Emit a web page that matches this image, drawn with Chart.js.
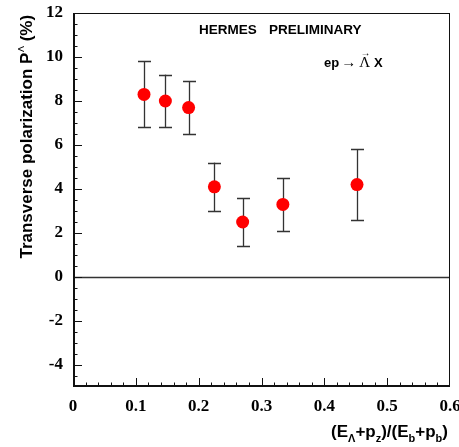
<!DOCTYPE html>
<html>
<head>
<meta charset="utf-8">
<script src="https://cdn.jsdelivr.net/npm/chart.js@4"></script>
<style>
  html, body { margin: 0; padding: 0; background: #fff; overflow: hidden; }
  #wrap { width: 459px; height: 447px; overflow: hidden; }
</style>
</head>
<body>
<div id="wrap"><canvas id="myChart" width="470" height="447"></canvas></div>
<script>
// measured points: x fraction, polarization (%) and its error
const xValues = [0.113, 0.147, 0.184, 0.225, 0.270, 0.334, 0.452];
const polarization = [8.3, 8.0, 7.7, 4.1, 2.5, 3.3, 4.2];
const polErr = [1.5, 1.2, 1.2, 1.1, 1.1, 1.2, 1.6];

const xTicks = [0, 0.1, 0.2, 0.3, 0.4, 0.5, 0.6];
const yTicks = [-4, -2, 0, 2, 4, 6, 8, 10, 12];

const tickFont = { family: 'Liberation Serif', size: 17, weight: 'bold' };
const sansBold = '"Liberation Sans", Arial, sans-serif';

// draws frame, inward tick marks, zero line and error bars
const hermesPlot = {
    id: 'hermesPlot',
    beforeDatasetsDraw(chart) {
        const { ctx, chartArea: a, scales: { x, y } } = chart;
        ctx.save();
        // zero line
        ctx.strokeStyle = '#333';
        ctx.lineWidth = 1.3;
        const y0 = Math.round(y.getPixelForValue(0)) + 0.5;
        ctx.beginPath();
        ctx.moveTo(a.left, y0);
        ctx.lineTo(a.right, y0);
        ctx.stroke();

        // error bars
        ctx.strokeStyle = '#333';
        ctx.lineWidth = 1.3;
        for (let i = 0; i < xValues.length; i++) {
            const px = Math.round(x.getPixelForValue(xValues[i])) + 0.5;
            const top = y.getPixelForValue(polarization[i] + polErr[i]);
            const bot = y.getPixelForValue(polarization[i] - polErr[i]);
            ctx.beginPath();
            ctx.moveTo(px, top);
            ctx.lineTo(px, bot);
            ctx.moveTo(px - 6.5, Math.round(top) + 0.5);
            ctx.lineTo(px + 6.5, Math.round(top) + 0.5);
            ctx.moveTo(px - 6.5, Math.round(bot) + 0.5);
            ctx.lineTo(px + 6.5, Math.round(bot) + 0.5);
            ctx.stroke();
        }
        ctx.restore();
    },
    afterDraw(chart) {
        const { ctx, chartArea: a, scales: { x, y } } = chart;
        ctx.save();
        ctx.strokeStyle = '#111';

        // frame
        ctx.lineWidth = 1;
        ctx.strokeRect(a.left + 0.5, a.top + 0.5, a.right - a.left - 1, a.bottom - a.top - 1);
        ctx.lineWidth = 2;
        ctx.beginPath();
        ctx.moveTo(a.left + 1, a.top);
        ctx.lineTo(a.left + 1, a.bottom - 1);
        ctx.lineTo(a.right, a.bottom - 1);
        ctx.stroke();

        // y ticks every 0.5, major every 2
        ctx.lineWidth = 1;
        ctx.beginPath();
        for (let v = y.min; v <= y.max + 1e-9; v += 0.5) {
            if (v === y.min || v === y.max) continue;
            const py = Math.round(y.getPixelForValue(v)) + 0.5;
            const len = (Math.abs(v % 2) < 1e-9) ? 9 : 4.5;
            ctx.moveTo(a.left, py);
            ctx.lineTo(a.left + len, py);
        }
        // x ticks every 0.02, major every 0.1
        for (let k = 1; k < 30; k++) {
            const px = Math.round(x.getPixelForValue(k * 0.02)) + 0.5;
            const len = (k % 5 === 0) ? 9 : 4.5;
            ctx.moveTo(px, a.bottom);
            ctx.lineTo(px, a.bottom - len);
        }
        ctx.stroke();

        ctx.fillStyle = '#000';
        ctx.textBaseline = 'alphabetic';
        ctx.textAlign = 'left';

        // y title, rotated, with superscript Lambda
        ctx.save();
        ctx.translate(32, 137);
        ctx.rotate(-Math.PI / 2);
        const part1 = 'Transverse polarization P';
        const part2 = ' (%)';
        ctx.font = 'bold 17px ' + sansBold;
        const w1 = ctx.measureText(part1).width;
        const w2 = ctx.measureText(part2).width;
        ctx.font = '9px ' + sansBold;
        const ws = ctx.measureText('\u039B').width;
        let sx = -(w1 + ws + w2) / 2;
        ctx.font = 'bold 17px ' + sansBold;
        ctx.fillText(part1, sx, 0);
        sx += w1 + 0.5;
        ctx.font = '9px ' + sansBold;
        ctx.fillText('\u039B', sx, -8);
        sx += ws;
        ctx.font = 'bold 17px ' + sansBold;
        ctx.fillText(part2, sx, 0);
        ctx.restore();

        // x title with subscripts, right edge near 448
        const pieces = [
            ['(E', 0], ['\u039B', 1], ['+p', 0], ['z', 1], [')/(E', 0], ['b', 1], ['+p', 0], ['b', 1], [')', 0]
        ];
        const pieceFont = sub => sub ? 'bold 11px ' + sansBold : 'bold 17px ' + sansBold;
        let total = 0;
        for (const [s, sub] of pieces) {
            ctx.font = pieceFont(sub);
            total += ctx.measureText(s).width;
        }
        let tx = 448 - total;
        for (const [s, sub] of pieces) {
            ctx.font = pieceFont(sub);
            ctx.fillText(s, tx, sub ? 442 : 437);
            tx += ctx.measureText(s).width;
        }

        // header text
        ctx.font = 'bold 13.5px ' + sansBold;
        ctx.fillText('HERMES', 199, 34);
        ctx.fillText('PRELIMINARY', 269, 34);

        // reaction label
        ctx.font = 'bold 13px ' + sansBold;
        let rx = 324;
        ctx.fillText('ep', rx, 67);
        rx += ctx.measureText('ep').width + 2;
        ctx.font = '15px "Liberation Serif", serif';
        ctx.fillText('\u2192', rx, 67);
        rx += ctx.measureText('\u2192').width + 3;
        const lw = ctx.measureText('\u039B').width;
        ctx.fillText('\u039B', rx, 67);
        ctx.font = '10px "Liberation Serif", serif';
        ctx.textAlign = 'center';
        ctx.fillText('\u2192', rx + lw / 2 + 1, 56);
        ctx.textAlign = 'left';
        rx += lw + 4;
        ctx.font = 'bold 13px ' + sansBold;
        ctx.fillText('X', rx, 67);

        ctx.restore();
    }
};

document.addEventListener('DOMContentLoaded', function () {
    const ctx = document.getElementById('myChart');
    new Chart(ctx, {
        type: 'scatter',
        data: {
            datasets: [{
                label: 'P',
                data: xValues.map((v, i) => ({ x: v, y: polarization[i] })),
                backgroundColor: '#ff0000',
                borderWidth: 0,
                pointRadius: 6.5,
                showLine: false
            }]
        },
        options: {
            responsive: false,
            animation: false,
            events: [],
            layout: { padding: { left: 0, top: 13, right: 20, bottom: 0 } },
            plugins: {
                legend: { display: false },
                tooltip: { enabled: false }
            },
            scales: {
                x: {
                    type: 'linear',
                    min: 0,
                    max: 0.6,
                    afterBuildTicks: s => { s.ticks = xTicks.map(v => ({ value: v })); },
                    afterFit: s => { s.height = 60; s.paddingRight = 0; s.paddingLeft = 0; },
                    grid: { display: false, drawTicks: false },
                    border: { display: false },
                    ticks: {
                        font: tickFont,
                        color: '#000',
                        padding: 9,
                        maxRotation: 0,
                        callback: v => String(v)
                    }
                },
                y: {
                    min: -5,
                    max: 12,
                    afterBuildTicks: s => { s.ticks = yTicks.map(v => ({ value: v })); },
                    // fixed width; labels may spill above the plot top
                    afterFit: s => { s.width = 73; s.paddingTop = 0; s.paddingBottom = 0; },
                    grid: { display: false, drawTicks: false },
                    border: { display: false },
                    ticks: {
                        font: tickFont,
                        color: '#000',
                        padding: 10,
                        callback: v => String(v)
                    }
                }
            }
        },
        plugins: [hermesPlot]
    });
});
</script>
</body>
</html>
